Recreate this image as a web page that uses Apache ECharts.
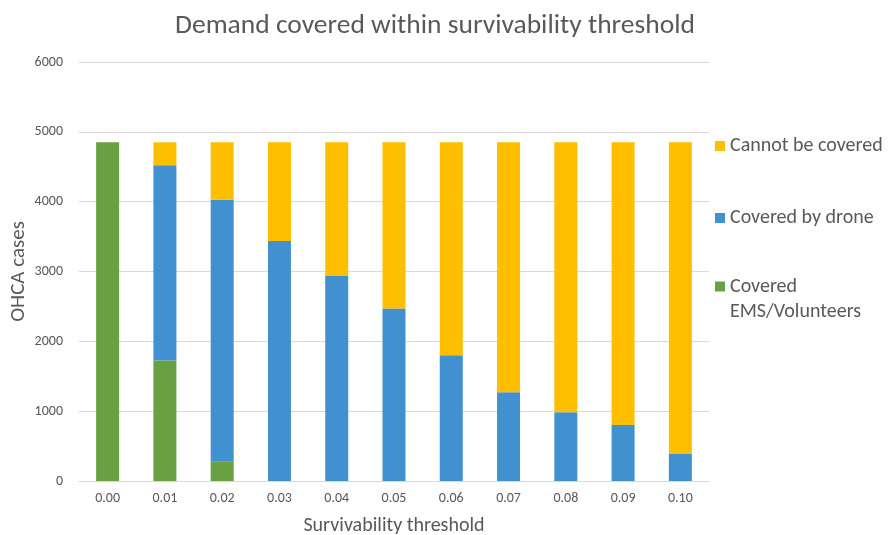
<!DOCTYPE html>
<html>
<head>
<meta charset="utf-8">
<title>Demand covered within survivability threshold</title>
<script src="https://cdn.jsdelivr.net/npm/echarts@6/dist/echarts.min.js"></script>
<style>
  html, body { margin: 0; padding: 0; background: #fff; }
  #chart { width: 890px; height: 535px; }
</style>
</head>
<body>
<div id="chart"></div>
<script>
// Survivability thresholds on the x axis
const thresholds = ['0.00', '0.01', '0.02', '0.03', '0.04', '0.05', '0.06', '0.07', '0.08', '0.09', '0.10'];

// OHCA cases per coverage type (stacked)
const coveredEMS   = [4850, 1725, 277, 0, 0, 0, 0, 0, 0, 0, 0];
const coveredDrone = [0, 2797, 3750, 3438, 2937, 2469, 1800, 1270, 984, 802, 387];
const notCovered   = [0, 328, 823, 1412, 1913, 2381, 3050, 3580, 3866, 4048, 4463];

const yTicks = [0, 1000, 2000, 3000, 4000, 5000, 6000];

const FONT = 'Carlito, Lato, "Open Sans", sans-serif';
const TEXT = '#595959';

const chart = echarts.init(document.getElementById('chart'), null, { renderer: 'canvas' });

const legendText = { color: TEXT, fontSize: 20, fontFamily: FONT };
const legendBase = {
  orient: 'vertical', left: 715, padding: 0,
  itemWidth: 10, itemHeight: 10, itemGap: 6, icon: 'rect', textStyle: legendText
};

chart.setOption({
  animation: false,
  backgroundColor: '#ffffff',
  title: {
    text: 'Demand covered within survivability threshold',
    left: 430,
    top: 7,
    textAlign: 'center',
    textStyle: { color: TEXT, fontSize: 27.5, fontWeight: 'normal', fontFamily: FONT }
  },
  legend: [
    Object.assign({}, legendBase, { data: ['Cannot be covered'], top: 136 }),
    Object.assign({}, legendBase, { data: ['Covered by drone'], top: 208 }),
    Object.assign({}, legendBase, {
      data: ['Covered EMS/Volunteers'],
      top: 249,
      textStyle: Object.assign({}, legendText, { lineHeight: 25 }),
      // blank first line keeps the icon level with "Covered"
      formatter: function (name) { return '\n' + name.replace(' ', '\n'); }
    })
  ],
  grid: { left: 79, right: 181, top: 62, bottom: 54, containLabel: false, outerBoundsMode: 'none' },
  xAxis: {
    type: 'category',
    data: thresholds,
    name: 'Survivability threshold',
    nameLocation: 'middle',
    nameGap: 35,
    nameTextStyle: { color: TEXT, fontSize: 20, fontFamily: FONT },
    axisLine: { lineStyle: { color: '#d9d9d9', width: 1 } },
    axisTick: { show: false },
    axisLabel: { color: TEXT, fontSize: 14, fontFamily: FONT, margin: 10 }
  },
  yAxis: {
    type: 'value',
    min: yTicks[0],
    max: yTicks[yTicks.length - 1],
    interval: 1000,
    name: 'OHCA cases',
    nameLocation: 'middle',
    nameGap: 50,
    nameMoveOverlap: false,
    nameTextStyle: { color: TEXT, fontSize: 21, fontFamily: FONT },
    axisLine: { show: false },
    axisTick: { show: false },
    splitLine: { lineStyle: { color: '#d9d9d9', width: 1 } },
    axisLabel: {
      color: TEXT, fontSize: 14, fontFamily: FONT, margin: 16,
      formatter: function (v) { return String(v); }
    }
  },
  series: [
    {
      name: 'Covered EMS/Volunteers', type: 'bar', stack: 'total',
      data: coveredEMS, barWidth: 23,
      itemStyle: { color: '#69A042' }
    },
    {
      name: 'Covered by drone', type: 'bar', stack: 'total',
      data: coveredDrone, barWidth: 23,
      itemStyle: { color: '#4191D0' }
    },
    {
      name: 'Cannot be covered', type: 'bar', stack: 'total',
      data: notCovered, barWidth: 23,
      itemStyle: { color: '#FFBE00' }
    }
  ]
});
</script>
</body>
</html>
